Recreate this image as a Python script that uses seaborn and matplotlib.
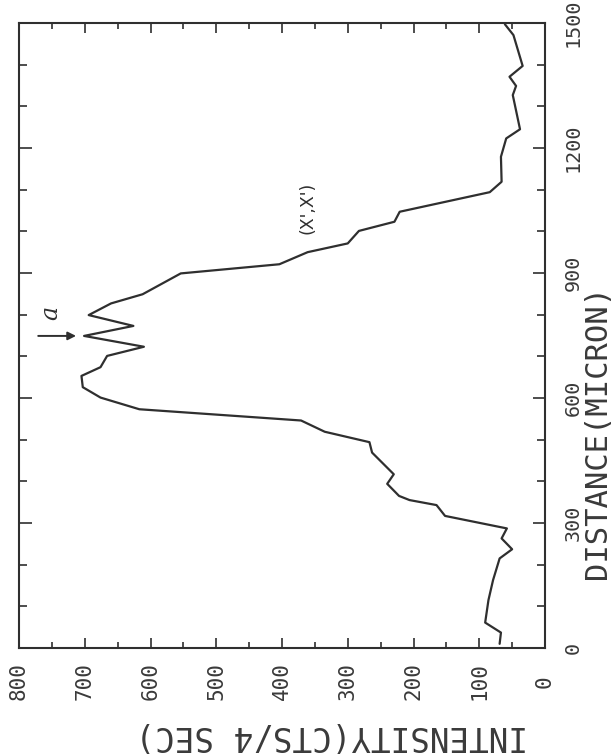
import matplotlib
matplotlib.use("Agg")
import matplotlib.pyplot as plt
from matplotlib.ticker import MultipleLocator
import numpy as np
import pandas as pd
import seaborn as sns

# Line scan: distance along the sample (micron) and measured intensity (counts per 4 s)
distance = [10, 37, 61, 115, 163, 215, 237, 263, 287, 317, 343, 355, 365, 394, 417,
            469, 494, 519, 546, 573, 601, 626, 653, 674, 701, 723, 749, 773, 799,
            827, 849, 899, 921, 950, 971, 1001, 1023, 1047, 1094, 1119, 1179, 1223,
            1245, 1327, 1349, 1371, 1397, 1471, 1497]
intensity = [69, 67, 91, 86, 79, 69, 50, 66, 58, 152, 165, 206, 222, 240, 230,
             263, 267, 335, 371, 617, 676, 703, 705, 676, 666, 610, 701, 626, 694,
             660, 612, 554, 404, 361, 300, 283, 229, 221, 84, 66, 67, 59,
             38, 49, 44, 54, 34, 48, 61]

intensity_ticks = [0, 100, 200, 300, 400, 500, 600, 700, 800]
distance_ticks = [0, 300, 600, 900, 1200, 1500]

curve_label = "(X',X')"
peak_label = "a"
peak_distance = 749
peak_intensity = 701

sns.set_style("white")
plt.rcParams["font.family"] = ["DejaVu Sans Mono", "DejaVu Sans"]

ink = "#2f2f2f"
text_ink = "#3a3a3a"
df = pd.DataFrame({"distance": distance, "intensity": intensity})

fig = plt.figure(figsize=(6.13, 7.56), dpi=100)
W, H = 613, 756
left, right, top, bottom = 19, 545, 23, 648
ax = fig.add_axes([left / W, 1 - bottom / H, (right - left) / W, (bottom - top) / H])

sns.lineplot(data=df, x="intensity", y="distance", orient="y", estimator=None,
             color=ink, linewidth=1.6, ax=ax)

ax.set_xlim(800, 0)
ax.set_ylim(0, 1500)

for s in ax.spines.values():
    s.set_visible(True)
    s.set_color(ink)
    s.set_linewidth(1.5)

ax.set_xticks(intensity_ticks)
ax.set_xticklabels([str(v) for v in intensity_ticks])
ax.xaxis.set_minor_locator(MultipleLocator(50))
ax.set_yticks(distance_ticks)
ax.set_yticklabels([str(v) for v in distance_ticks])
ax.yaxis.set_minor_locator(MultipleLocator(100))
ax.yaxis.tick_right()

ax.tick_params(axis="x", which="both", direction="in", top=True, bottom=True,
               color=ink, width=1.2, labelsize=15, labelcolor=text_ink, pad=24)
ax.tick_params(axis="x", which="major", length=7)
ax.tick_params(axis="x", which="minor", length=4)
ax.tick_params(axis="y", which="both", direction="in", left=True, right=True,
               color=ink, width=1.2, labelsize=14.5, labelcolor=text_ink, pad=20)
ax.tick_params(axis="y", which="major", length=9)
ax.tick_params(axis="y", which="minor", length=6)

for lab in ax.get_xticklabels():
    lab.set_rotation(90)
    lab.set_va("center")
    lab.set_ha("center")
for lab in ax.get_yticklabels():
    lab.set_rotation(90)
    lab.set_va("center")
    lab.set_ha("center")

ax.set_xlabel("INTENSITY(CTS/4 SEC)", fontsize=23.5, color=text_ink, rotation=180)
ax.xaxis.set_label_coords((332 - left) / (right - left), -(735 - bottom) / (bottom - top))
ax.yaxis.set_label_position("right")
ax.set_ylabel("DISTANCE(MICRON)", fontsize=22, color=text_ink, rotation=90)
ax.yaxis.set_label_coords((597 - left) / (right - left), (bottom - 432) / (bottom - top))
ax.xaxis.label.set_va("center")
ax.xaxis.label.set_ha("center")
ax.yaxis.label.set_va("center")
ax.yaxis.label.set_ha("center")

ax.text(361, 1056, curve_label, rotation=90, ha="center", va="center",
        fontsize=12.5, color=ink, family="DejaVu Sans")

ax.annotate("", xy=(peak_intensity + 8, peak_distance), xytext=(775, peak_distance),
            arrowprops=dict(arrowstyle="-|>", color=ink, lw=1.4, mutation_scale=12))
ax.text(752, 804, peak_label, rotation=90, ha="center", va="center",
        fontsize=17, color=ink, family="DejaVu Serif", style="italic")

fig.savefig("out.png", dpi=100, facecolor="white")
